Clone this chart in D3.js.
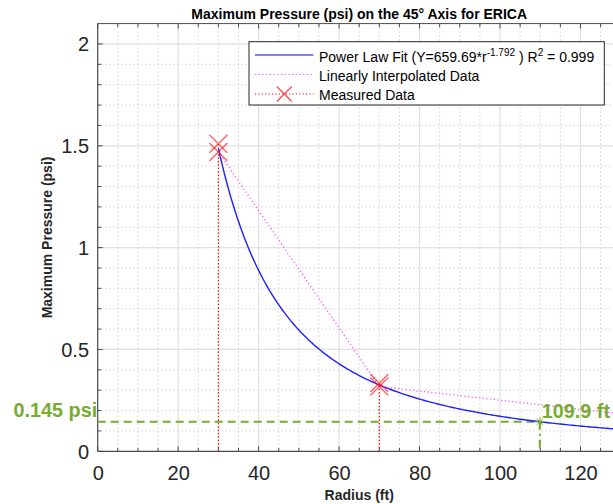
<!DOCTYPE html>
<html>
<head>
<meta charset="utf-8">
<script src="https://cdn.jsdelivr.net/npm/d3@7"></script>
<style>
  html, body { margin: 0; padding: 0; background: #fff; overflow: hidden; }
  svg { display: block; font-family: "Liberation Sans", Arial, Helvetica, sans-serif; }
</style>
</head>
<body>
<svg id="chart" width="613" height="504"></svg>
<script>
// Power-law fit  P = a * r^b
const fitCoef = 659.69;
const fitExp = -1.792;
const fitR2 = 0.999;

// Measured peak pressures (two gauges per radius)
const measuredRadius = [30, 30, 70, 70];
const measuredPressure = [1.51, 1.47, 0.335, 0.318];

// Piecewise-linear trace through the data
const interpRadius = [30, 70, 130];
const interpPressure = [1.47, 0.318, 0.184];

// Threshold read-off
const thresholdPsi = 0.145;
const thresholdRadius = 109.9;

// Axis ticks
const xMajorTicks = [0, 20, 40, 60, 80, 100, 120];
const yMajorTicks = [0, 0.5, 1, 1.5, 2];

const svg = d3.select("#chart");
const plotLeft = 97.7, plotRight = 620.7, plotTop = 23.6, plotBottom = 451.3;

const x = d3.scaleLinear().domain([0, 130]).range([plotLeft, plotRight]);
const y = d3.scaleLinear().domain([0, 2.1]).range([plotBottom, plotTop]);

const xMinor = d3.range(0, 131, 5);
const yMinor = d3.range(0, 21).map(i => +(i * 0.1).toFixed(1));
const isHalf = v => Math.abs(v * 2 - Math.round(v * 2)) < 1e-6;

const green = "#77AC30";

// --- grid ---------------------------------------------------------------
const grid = svg.append("g");
grid.selectAll(".xmin").data(xMinor.filter(v => v % 20 !== 0)).join("line")
  .attr("x1", d => x(d)).attr("x2", d => x(d)).attr("y1", plotTop).attr("y2", plotBottom)
  .attr("stroke", "#bdbdbd").attr("stroke-width", 1).attr("stroke-dasharray", "1,3");
grid.selectAll(".ymin").data(yMinor.filter(v => !isHalf(v))).join("line")
  .attr("x1", plotLeft).attr("x2", plotRight).attr("y1", d => y(d)).attr("y2", d => y(d))
  .attr("stroke", "#bdbdbd").attr("stroke-width", 1).attr("stroke-dasharray", "1,3");
grid.selectAll(".xmaj").data(xMajorTicks.filter(v => v > 0)).join("line")
  .attr("x1", d => x(d)).attr("x2", d => x(d)).attr("y1", plotTop).attr("y2", plotBottom)
  .attr("stroke", "#e0e0e0").attr("stroke-width", 1.2);
grid.selectAll(".ymaj").data(yMajorTicks.filter(v => v > 0)).join("line")
  .attr("x1", plotLeft).attr("x2", plotRight).attr("y1", d => y(d)).attr("y2", d => y(d))
  .attr("stroke", "#e0e0e0").attr("stroke-width", 1.2);

// --- axes ---------------------------------------------------------------
const axisColor = "#4a4a4a";
const xAxis = d3.axisBottom(x).tickValues(xMajorTicks).tickSize(0).tickPadding(0);
const gx = svg.append("g").attr("transform", `translate(0,${plotBottom})`).call(xAxis);
gx.select(".domain").remove();
gx.selectAll("text").attr("font-size", 20).attr("fill", "#262626")
  .attr("dy", null).attr("y", 28.7);

const yAxis = d3.axisLeft(y).tickValues(yMajorTicks).tickSize(0).tickPadding(0)
  .tickFormat(d3.format(""));
const gy = svg.append("g").attr("transform", `translate(${plotLeft},0)`).call(yAxis);
gy.select(".domain").remove();
gy.selectAll("text").attr("font-size", 20).attr("fill", "#262626")
  .attr("x", -8.7).attr("dy", "0.35em");
svg.selectAll(".tick line").remove();

// inward tick marks on all visible sides
const ticks = svg.append("g").attr("stroke", axisColor).attr("stroke-width", 1);
xMinor.forEach(v => {
  const len = v % 20 === 0 ? 5 : 3.5;
  ticks.append("line").attr("x1", x(v)).attr("x2", x(v)).attr("y1", plotBottom).attr("y2", plotBottom - len);
  ticks.append("line").attr("x1", x(v)).attr("x2", x(v)).attr("y1", plotTop).attr("y2", plotTop + len);
});
yMinor.forEach(v => {
  ticks.append("line").attr("x1", plotLeft).attr("x2", plotLeft + (isHalf(v) ? 5 : 3.5))
    .attr("y1", y(v)).attr("y2", y(v));
});

// box
svg.append("line").attr("x1", plotLeft).attr("x2", plotRight).attr("y1", plotTop).attr("y2", plotTop)
  .attr("stroke", axisColor).attr("stroke-width", 1);
svg.append("line").attr("x1", plotLeft).attr("x2", plotRight).attr("y1", plotBottom).attr("y2", plotBottom)
  .attr("stroke", axisColor).attr("stroke-width", 1.2);
svg.append("line").attr("x1", plotLeft).attr("x2", plotLeft).attr("y1", plotTop).attr("y2", plotBottom)
  .attr("stroke", axisColor).attr("stroke-width", 1.2);

// --- data ---------------------------------------------------------------
const plot = svg.append("g");

// measured stems (dotted red)
plot.selectAll(".stem").data(measuredRadius.map((r, i) => [r, measuredPressure[i]])).join("line")
  .attr("x1", d => x(d[0])).attr("x2", d => x(d[0]))
  .attr("y1", y(0)).attr("y2", d => y(d[1]))
  .attr("stroke", "#ff0000").attr("stroke-width", 1).attr("stroke-dasharray", "1.2,2.2");

// threshold guides
plot.append("line")
  .attr("x1", x(0)).attr("x2", x(thresholdRadius))
  .attr("y1", y(thresholdPsi)).attr("y2", y(thresholdPsi))
  .attr("stroke", green).attr("stroke-width", 2.2).attr("stroke-dasharray", "8,5");
plot.append("line")
  .attr("x1", x(thresholdRadius)).attr("x2", x(thresholdRadius))
  .attr("y1", y(thresholdPsi)).attr("y2", y(0))
  .attr("stroke", green).attr("stroke-width", 2.2).attr("stroke-dasharray", "8,4,2,4");

// power-law fit
const fitR = d3.range(30, 130.01, 0.5);
const line = d3.line().x(d => x(d[0])).y(d => y(d[1]));
plot.append("path")
  .datum(fitR.map(r => [r, fitCoef * Math.pow(r, fitExp)]))
  .attr("d", line).attr("fill", "none").attr("stroke", "#1f1fff").attr("stroke-width", 1.4);

// linear trace
plot.append("path")
  .datum(interpRadius.map((r, i) => [r, interpPressure[i]]))
  .attr("d", line).attr("fill", "none").attr("stroke", "#ff55ff").attr("stroke-width", 1.3)
  .attr("stroke-dasharray", "1.3,2.4");

// X markers
function cross(g, cx, cy, s, color, w, op) {
  g.append("path")
    .attr("d", `M${cx - s},${cy - s}L${cx + s},${cy + s}M${cx - s},${cy + s}L${cx + s},${cy - s}`)
    .attr("stroke", color).attr("stroke-width", w).attr("stroke-opacity", op).attr("fill", "none");
}
measuredRadius.forEach((r, i) => cross(plot, x(r), y(measuredPressure[i]), 9, "#ff0000", 1.4, 0.6));

// asterisk at threshold crossing
(function () {
  const cx = x(thresholdRadius), cy = y(thresholdPsi), s = 4.5;
  plot.append("path")
    .attr("d", `M${cx - s},${cy}L${cx + s},${cy}M${cx},${cy - s}L${cx},${cy + s}` +
               `M${cx - s * 0.7},${cy - s * 0.7}L${cx + s * 0.7},${cy + s * 0.7}` +
               `M${cx - s * 0.7},${cy + s * 0.7}L${cx + s * 0.7},${cy - s * 0.7}`)
    .attr("stroke", green).attr("stroke-width", 1).attr("fill", "none");
})();

// threshold labels
svg.append("text").attr("x", x(0) - 0.5).attr("y", 416.7).attr("text-anchor", "end")
  .attr("font-size", 19.8).attr("font-weight", "bold").attr("fill", green)
  .text(`${thresholdPsi} psi`);
svg.append("text").attr("x", x(thresholdRadius) + 2).attr("y", 417.5)
  .attr("font-size", 19.8).attr("font-weight", "bold").attr("fill", green)
  .text(`${thresholdRadius} ft`);

// --- titles -------------------------------------------------------------
svg.append("text").attr("x", (plotLeft + plotRight) / 2).attr("y", 18.5).attr("text-anchor", "middle")
  .attr("font-size", 14).attr("font-weight", "bold").attr("fill", "#000")
  .text("Maximum Pressure (psi) on the 45° Axis for ERICA");
svg.append("text").attr("x", (plotLeft + plotRight) / 2).attr("y", 500).attr("text-anchor", "middle")
  .attr("font-size", 14).attr("font-weight", "bold").attr("fill", "#262626")
  .text("Radius (ft)");
svg.append("text").attr("transform", `translate(52,${(plotTop + plotBottom) / 2}) rotate(-90)`)
  .attr("text-anchor", "middle")
  .attr("font-size", 14).attr("font-weight", "bold").attr("fill", "#262626")
  .text("Maximum Pressure (psi)");

// --- legend -------------------------------------------------------------
const lg = svg.append("g");
lg.append("rect").attr("x", 249).attr("y", 41.7).attr("width", 355.3).attr("height", 63.3)
  .attr("fill", "#fff").attr("stroke", "#262626").attr("stroke-width", 1);
const rows = [55, 74.5, 94];
const sx1 = 255, sx2 = 313.5, tx = 319;
lg.append("line").attr("x1", sx1).attr("x2", sx2).attr("y1", rows[0]).attr("y2", rows[0])
  .attr("stroke", "#0000ff").attr("stroke-width", 1.2);
lg.append("line").attr("x1", sx1).attr("x2", sx2).attr("y1", rows[1]).attr("y2", rows[1])
  .attr("stroke", "#ff55ff").attr("stroke-width", 1.2).attr("stroke-dasharray", "1.3,2.4");
lg.append("line").attr("x1", sx1).attr("x2", sx2).attr("y1", rows[2]).attr("y2", rows[2])
  .attr("stroke", "#ff0000").attr("stroke-width", 1).attr("stroke-dasharray", "1.2,2.2");
cross(lg, (sx1 + sx2) / 2, rows[2], 7.5, "#ff0000", 1.3, 0.7);

const t1 = lg.append("text").attr("x", tx).attr("y", rows[0] + 6.8).attr("font-size", 14).attr("fill", "#000");
t1.append("tspan").text(`Power Law Fit (Y=${fitCoef}*r`);
t1.append("tspan").attr("dy", -6).attr("font-size", 10).text(`${fitExp}`);
t1.append("tspan").attr("dy", 6).text(" ) R");
t1.append("tspan").attr("dy", -6).attr("font-size", 10).text("2");
t1.append("tspan").attr("dy", 6).text(` = ${fitR2}`);
lg.append("text").attr("x", tx).attr("y", rows[1] + 6.3).attr("font-size", 14).attr("fill", "#000")
  .text("Linearly Interpolated Data");
lg.append("text").attr("x", tx).attr("y", rows[2] + 5.5).attr("font-size", 14).attr("fill", "#000")
  .text("Measured Data");
</script>
</body>
</html>
